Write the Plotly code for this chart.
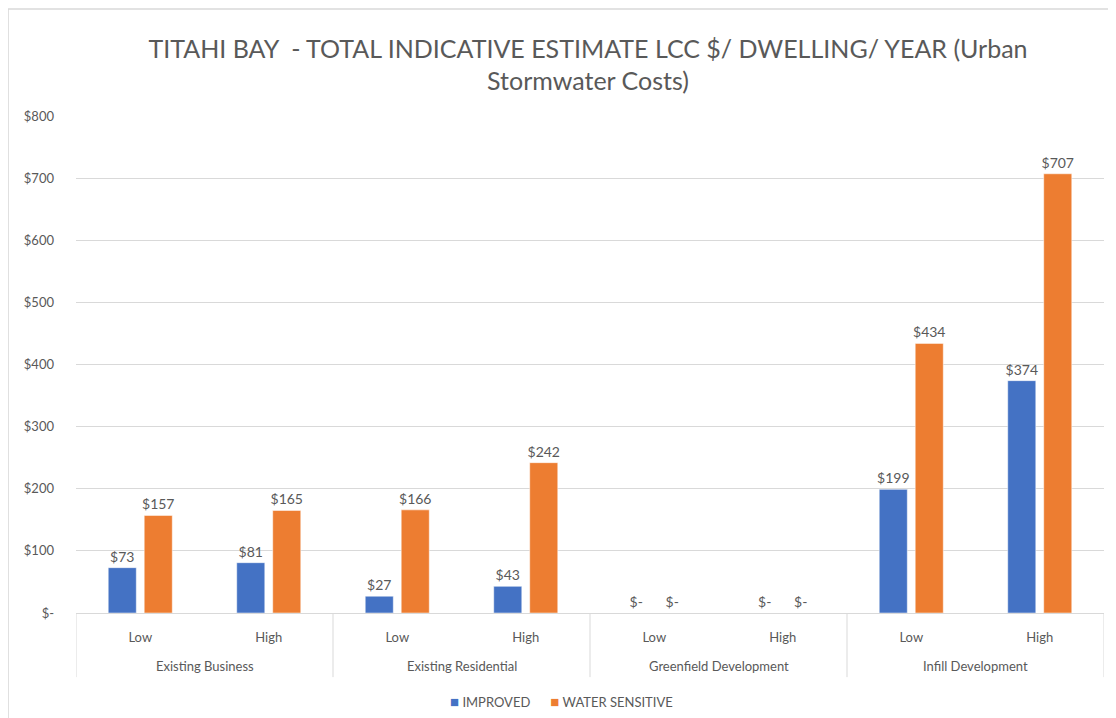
import plotly.graph_objects as go

groups = ["Existing Business", "Existing Business", "Existing Residential", "Existing Residential",
          "Greenfield Development", "Greenfield Development", "Infill Development", "Infill Development"]
levels = ["Low", "High", "Low", "High", "Low", "High", "Low", "High"]
improved = [73, 81, 27, 43, 0, 0, 199, 374]
water_sensitive = [157, 165, 166, 242, 0, 0, 434, 707]
y_ticks = [0, 100, 200, 300, 400, 500, 600, 700, 800]
series_names = ["IMPROVED", "WATER SENSITIVE"]
series_colors = ["#4472C4", "#ED7D31"]

def money(v):
    return f"${v}" if v else "$-"

FONT = "Lato"
GRAY = "#595959"
LINE = "#D9D9D9"

cats = [f"{g} | {l}" for g, l in zip(groups, levels)]

fig = go.Figure()
for name, vals, col in zip(series_names, [improved, water_sensitive], series_colors):
    fig.add_trace(go.Bar(
        x=cats, y=vals, name=name,
        marker=dict(color=col, line=dict(color="white", width=0.5)),
        text=[money(v) for v in vals], textposition="outside", constraintext="none",
        textfont=dict(family=FONT, size=14, color=GRAY), cliponaxis=False,
    ))

fig.update_layout(
    width=1116, height=718,
    paper_bgcolor="white", plot_bgcolor="white",
    margin=dict(l=68, r=20, t=108, b=113, autoexpand=False),
    font=dict(family=FONT, color=GRAY, size=13),
    title=dict(
        text="TITAHI BAY  - TOTAL INDICATIVE ESTIMATE LCC $/ DWELLING/ YEAR (Urban<br>Stormwater Costs)",
        x=580 / 1116, xanchor="center", xref="container", y=1 - 49.5 / 718, yanchor="middle", yref="container",
        font=dict(family=FONT, size=25, color=GRAY),
    ),
    barmode="group", bargap=0.44, bargroupgap=0.22,
    showlegend=False,
)
fig.update_yaxes(
    range=[0, 800], tickvals=y_ticks, ticktext=[money(v) for v in y_ticks],
    showgrid=True, gridcolor=LINE, gridwidth=1, zeroline=False,
    showline=False, ticks="", ticklabelstandoff=21, automargin=False,
    tickfont=dict(family=FONT, size=13, color=GRAY),
)
fig.update_xaxes(
    type="category", tickvals=cats, ticktext=levels,
    showline=True, linecolor=LINE, linewidth=1, showgrid=False,
    ticks="", ticklabelstandoff=12, automargin=False,
    tickfont=dict(family=FONT, size=13, color=GRAY),
    range=[-0.5, len(cats) - 0.5],
)

# group labels and dividers of the two-level category axis
group_names = list(dict.fromkeys(groups))
start = 0
bounds = [-0.5]
for gname in group_names:
    n = groups.count(gname)
    fig.add_annotation(x=start + (n - 1) / 2, xref="x", y=-0.1066, yref="paper",
                       text=gname, showarrow=False, yanchor="middle",
                       font=dict(family=FONT, size=13, color=GRAY))
    start += n
    bounds.append(start - 0.5)
for b in bounds:
    fig.add_shape(type="line", xref="x", yref="paper", x0=b, x1=b, y0=0, y1=-0.129,
                  line=dict(color=LINE, width=1))

# legend drawn as text
legend_text = "      ".join(
    f"<span style='color:{c}; font-size:15px'>■</span> {n}" for n, c in zip(series_names, series_colors)
)
fig.add_annotation(x=(561 - 76) / 1028, xref="paper", y=-0.1771, yref="paper",
                   text=legend_text, showarrow=False, xanchor="center", yanchor="middle",
                   font=dict(family=FONT, size=13, color=GRAY))

# chart border
fig.add_shape(type="rect", xref="paper", yref="paper", x0=-0.0661, x1=1.05, y0=-0.3, y1=1.2153,
              line=dict(color=LINE, width=1.5), fillcolor="rgba(0,0,0,0)", layer="below")

fig.write_html("out.html")
